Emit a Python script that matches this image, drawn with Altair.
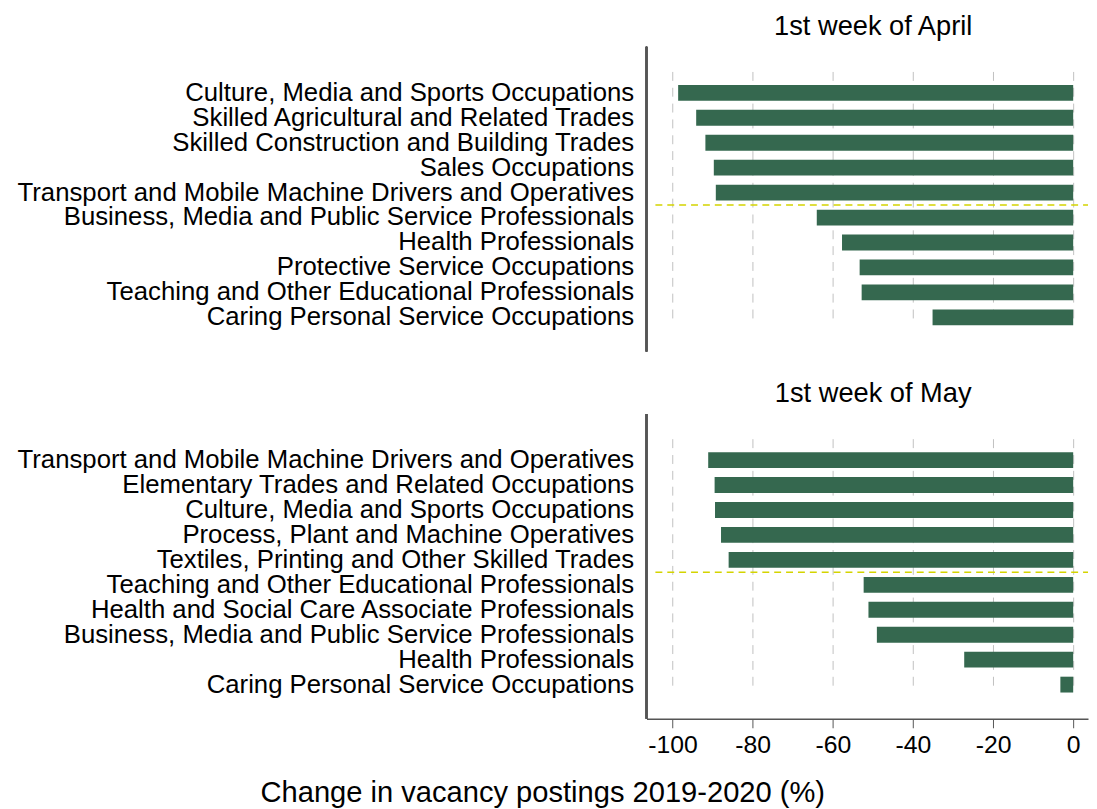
import altair as alt
import pandas as pd

april_occ = [
    "Culture, Media and Sports Occupations",
    "Skilled Agricultural and Related Trades",
    "Skilled Construction and Building Trades",
    "Sales Occupations",
    "Transport and Mobile Machine Drivers and Operatives",
    "Business, Media and Public Service Professionals",
    "Health Professionals",
    "Protective Service Occupations",
    "Teaching and Other Educational Professionals",
    "Caring Personal Service Occupations",
]
april_val = [-98.6, -94.1, -91.8, -89.7, -89.2, -64.0, -57.7, -53.3, -52.8, -35.1]

may_occ = [
    "Transport and Mobile Machine Drivers and Operatives",
    "Elementary Trades and Related Occupations",
    "Culture, Media and Sports Occupations",
    "Process, Plant and Machine Operatives",
    "Textiles, Printing and Other Skilled Trades",
    "Teaching and Other Educational Professionals",
    "Health and Social Care Associate Professionals",
    "Business, Media and Public Service Professionals",
    "Health Professionals",
    "Caring Personal Service Occupations",
]
may_val = [-91.1, -89.5, -89.4, -87.9, -86.0, -52.3, -51.1, -49.0, -27.2, -3.2]

titles = ["1st week of April", "1st week of May"]
x_ticks = [-100, -80, -60, -40, -20, 0]
x_title = "Change in vacancy postings 2019-2020 (%)"
split_after = 5

W = 446
H = 308
FONT = "Liberation Sans"
BAR = "#35684f"
AXC = "#555555"
XDOM = [-106.5, 3.7]
Y_RANGE = [34, 286]


def panel(occ, val, title, bottom):
    df = pd.DataFrame({"occ": occ, "val": val})
    yscale = alt.Scale(domain=occ, paddingInner=0, paddingOuter=0, range=Y_RANGE)
    if bottom:
        xaxis = alt.Axis(values=x_ticks, grid=True, gridDash=[9, 7], gridColor="#c0c0c0",
                         domain=True, domainColor=AXC, domainWidth=1.5, ticks=True, tickSize=9,
                         tickColor=AXC, labelFontSize=25, labelColor="#000000",
                         labelPadding=5, title=None, labelFont=FONT,
                         labelExpr="'' + datum.value")
    else:
        xaxis = alt.Axis(values=x_ticks, grid=True, gridDash=[9, 7], gridColor="#c0c0c0",
                         domain=False, ticks=False, labels=False, title=None)
    bars = alt.Chart(df).mark_bar(size=16, color=BAR).encode(
        x=alt.X("val:Q", scale=alt.Scale(domain=XDOM, nice=False, zero=False), axis=xaxis),
        y=alt.Y("occ:N", sort=occ, scale=yscale,
                axis=alt.Axis(title=None, ticks=False, grid=False, domain=False,
                              labelFontSize=26, labelColor="#000000",
                              labelPadding=13, labelLimit=0, labelFont=FONT)),
    )
    axis_line = alt.Chart(df).mark_rule(color=AXC, strokeWidth=1.5).encode(
        x=alt.value(0), y=alt.value(0), y2=alt.value(H)
    )
    rdf = pd.DataFrame({"occ": [occ[split_after - 1]]})
    rule = alt.Chart(rdf).mark_rule(color="#d4d400", strokeDash=[7, 5], strokeWidth=1.5).encode(
        y=alt.Y("occ:N", sort=occ, scale=yscale, bandPosition=1),
        x=alt.value(9),
        x2=alt.value(W),
    )
    return alt.layer(bars, rule, axis_line).properties(
        width=W, height=H,
        title=alt.TitleParams(title, fontSize=27.5, font=FONT, fontWeight="normal",
                              color="#000000", anchor="middle", offset=6, dx=6),
    )


top = panel(april_occ, april_val, titles[0], False)
bot = panel(may_occ, may_val, titles[1], True)

chart = alt.vconcat(top, bot, spacing=27).properties(
    padding={"left": 8, "top": 0, "right": 0, "bottom": 0},
    title=alt.TitleParams(x_title, orient="bottom", anchor="middle", fontSize=29.4, font=FONT,
                          fontWeight="normal", color="#000000", offset=22, dx=-10),
).configure(font=FONT).configure_view(strokeWidth=0, stroke="transparent")

chart.save("out.html", embed_options={"renderer": "svg", "actions": False})
